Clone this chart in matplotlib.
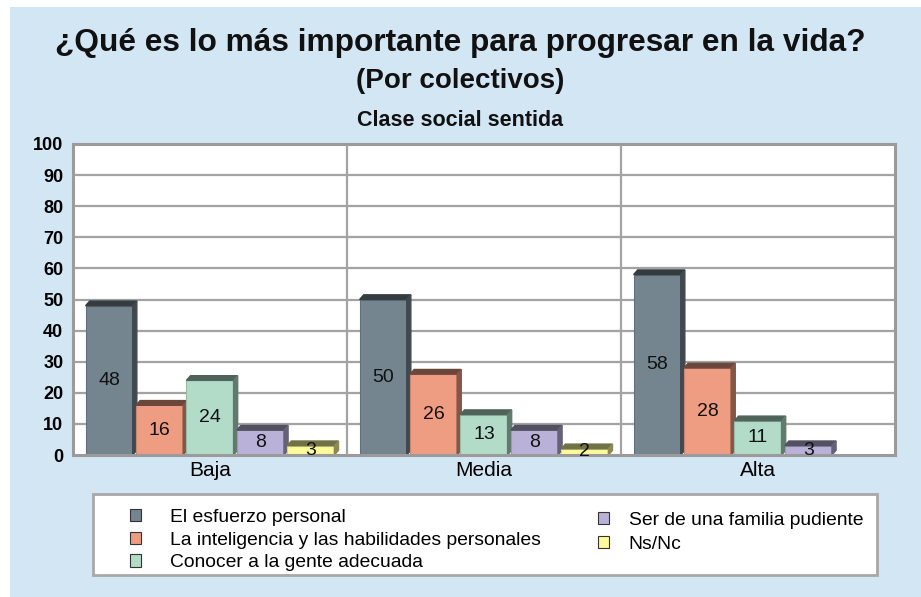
import numpy as np
import matplotlib
matplotlib.use("Agg")
import matplotlib.pyplot as plt
from matplotlib.patches import Rectangle, Patch
from matplotlib.colors import to_rgb

plt.rcParams['font.family'] = ['Liberation Sans', 'DejaVu Sans']

# data
categories = ['Baja', 'Media', 'Alta']
series_names = ['El esfuerzo personal',
                'La inteligencia y las habilidades personales',
                'Conocer a la gente adecuada',
                'Ser de una familia pudiente',
                'Ns/Nc']
esfuerzo = [48, 50, 58]
inteligencia = [16, 26, 28]
conocer = [24, 13, 11]
familia = [8, 8, 3]
nsnc = [3, 2, 0]
yticks = [0, 10, 20, 30, 40, 50, 60, 70, 80, 90, 100]

series = [esfuerzo, inteligencia, conocer, familia, nsnc]
colors = ['#74858f', '#ee9c82', '#b2dcc7', '#b9b1d7', '#fbfb9c']
bg = '#d3e6f4'
grid_c = '#a3a3a3'


def shade(c, f):
    r, g, b = to_rgb(c)
    return (r * f, g * f, b * f)


fig = plt.figure(figsize=(9.21, 5.97), dpi=100)
fig.patches.append(Rectangle((10 / 921, 0), 1, (597 - 7) / 597, transform=fig.transFigure,
                             facecolor=bg, edgecolor='none', zorder=-10))

ax = fig.add_axes([73 / 921, 1 - 455 / 597, (895 - 73) / 921, (455 - 144) / 597])
ax.set_facecolor('white')
ax.set_xlim(0, 3)
ax.set_ylim(0, 100)

# grid
for y in yticks[1:-1]:
    ax.axhline(y, color=grid_c, lw=1.6, zorder=0)
for x in [1, 2]:
    ax.axvline(x, color=grid_c, lw=1.6, zorder=0)

pitch = 0.184
width = 0.172
dx = 0.015
dy = 1.5
centers = np.arange(len(categories)) + 0.5
for i, (vals, col) in enumerate(zip(series, colors)):
    xs = centers + (i - 2) * pitch
    bars = ax.bar(xs, vals, width=width, color=col, edgecolor=shade(col, 0.85),
                  lw=0.8, zorder=3)
    for b, v in zip(bars, vals):
        if v == 0:
            continue
        x0, x1, h = b.get_x(), b.get_x() + b.get_width(), b.get_height()
        ax.fill([x0, x0 + dx, x1 + dx, x1], [h, h + dy, h + dy, h],
                color=shade(col, 0.45), zorder=3, clip_on=False)
        ax.fill([x1, x1 + dx, x1 + dx, x1], [0, dy, h + dy, h],
                color=shade(col, 0.55), zorder=3)
        ax.text(b.get_x() + b.get_width() / 2, h / 2, str(v), ha='center', va='center',
                fontsize=14, color='#111111', zorder=5, clip_on=False)

ax.set_yticks(yticks)
ax.set_yticklabels([str(t) for t in yticks], fontsize=13, fontweight='bold')
ax.set_xticks(centers)
ax.set_xticklabels(categories, fontsize=15)
ax.tick_params(length=0, pad=7)
ax.tick_params(axis='x', pad=4)
for s in ax.spines.values():
    s.set_color('#9b9b9b')
    s.set_linewidth(2.2)
    s.set_zorder(4)

fig.text(0.5, 1 - 43 / 597, '¿Qué es lo más importante para progresar en la vida?',
         ha='center', va='center', fontsize=22.8, fontweight='bold', color='#111111')
fig.text(0.5, 1 - 81 / 597, '(Por colectivos)', ha='center', va='center',
         fontsize=20, fontweight='bold', color='#111111')
fig.text(0.5, 1 - 121 / 597, 'Clase social sentida', ha='center', va='center',
         fontsize=15.5, fontweight='bold', color='#111111')

# legend box
fig.patches.append(Rectangle((93 / 921, 1 - 575 / 597), (877 - 93) / 921, (575 - 494) / 597,
                             transform=fig.transFigure, facecolor='white',
                             edgecolor='#a8a8a8', lw=2, zorder=1))
handles = [Patch(facecolor=c, edgecolor='#333333', lw=0.8) for c in colors]
leg1 = fig.legend(handles[:3], series_names[:3], loc='upper left',
                  bbox_to_anchor=(122 / 921, 1 - 501 / 597), frameon=False,
                  fontsize=13.9, handlelength=0.6, handleheight=0.6, handletextpad=1.5,
                  labelspacing=0.3, borderaxespad=0)
leg2 = fig.legend(handles[3:], series_names[3:], loc='upper left',
                  bbox_to_anchor=(590 / 921, 1 - 504 / 597), frameon=False,
                  fontsize=13.9, handlelength=0.6, handleheight=0.6, handletextpad=1.0,
                  labelspacing=0.38, borderaxespad=0)
for lg in (leg1, leg2):
    lg.set_zorder(2)

fig.savefig('out.png', dpi=100, facecolor='white')
